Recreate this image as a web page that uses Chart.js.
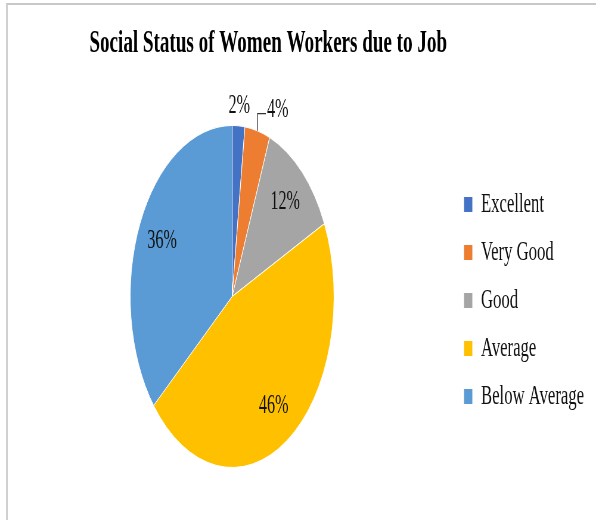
<!DOCTYPE html>
<html>
<head>
<meta charset="utf-8">
<script src="https://cdn.jsdelivr.net/npm/chart.js@4.4.0/dist/chart.umd.min.js"></script>
<style>
  html, body { margin: 0; padding: 0; background: #fff; overflow: hidden; }
  #frame { position: absolute; left: 6px; top: 3px; width: 700px; height: 600px;
           border-top: 2px solid #c8c8c8; border-left: 2px solid #d0d0d0; }
  #wrap { position: absolute; left: 0; top: 0; width: 1000px; height: 520px;
          transform: scaleX(0.596); transform-origin: 0 0; }
</style>
</head>
<body>
<div id="frame"></div>
<div id="wrap"><canvas id="MyChart"></canvas></div>
<script>
var categories = ['Excellent', 'Very Good', 'Good', 'Average', 'Below Average'];
var shares = [2, 4, 12, 46, 36];
var sliceColors = ['#4472C4', '#ED7D31', '#A5A5A5', '#FFC000', '#5B9BD5'];

var FONT = "'Liberation Serif', 'Times New Roman', serif";

// percent labels; the two thin slices sit outside, 4% gets a leader line
var pieLabels = {
  id: 'pieLabels',
  afterDatasetsDraw: function (chart) {
    var ctx = chart.ctx;
    var arcs = chart.getDatasetMeta(0).data;
    ctx.save();
    ctx.fillStyle = '#111';
    ctx.font = '27px ' + FONT;
    ctx.textBaseline = 'middle';
    arcs.forEach(function (arc, i) {
      var p = arc.getProps(['x', 'y', 'startAngle', 'endAngle', 'outerRadius']);
      var mid = (p.startAngle + p.endAngle) / 2;
      var r = p.outerRadius;
      var text = shares[i] + '%';
      if (i === 0) {
        ctx.textAlign = 'center';
        ctx.fillText(text, p.x + Math.cos(mid) * r * 1.116, p.y + Math.sin(mid) * r * 1.116);
      } else if (i === 1) {
        var ex = p.x + Math.cos(mid) * r;
        var ey = p.y + Math.sin(mid) * r;
        var cy = p.y - r * 1.07;
        ctx.strokeStyle = '#333';
        ctx.lineWidth = 1.3;
        ctx.beginPath();
        ctx.moveTo(ex, ey);
        ctx.lineTo(ex, cy);
        ctx.lineTo(ex + 14, cy);
        ctx.stroke();
        ctx.textAlign = 'left';
        ctx.fillText(text, ex + 16, cy - 4);
      } else {
        ctx.textAlign = 'center';
        ctx.fillText(text, p.x + Math.cos(mid) * r * 0.76, p.y + Math.sin(mid) * r * 0.76);
      }
    });
    ctx.restore();
  },
};

// legend is laid out narrow so the title centres like the original,
// then its box is widened so the long labels are not clipped
var legendRoom = {
  id: 'legendRoom',
  afterLayout: function (chart) {
    var lg = chart.legend;
    if (!lg) return;
    lg.right = chart.width;
    lg.width = lg.right - lg.left;
    lg.top += 4;
    lg.bottom += 4;
  },
};

var ctx = document.getElementById('MyChart').getContext('2d');
var chart = new Chart(ctx, {
  type: 'pie',
  data: {
    labels: categories,
    datasets: [
      {
        data: shares,
        backgroundColor: sliceColors,
        borderColor: '#ffffff',
        borderWidth: 1,
      },
    ],
  },
  options: {
    responsive: true,
    maintainAspectRatio: false,
    animation: false,
    layout: {
      padding: { left: 21, right: 121, top: 0, bottom: 52 },
    },
    plugins: {
      tooltip: { enabled: false },
      title: {
        display: true,
        text: 'Social Status of Women Workers due to Job',
        color: '#000',
        font: { family: FONT, size: 32, weight: 'bold' },
        padding: { top: 25, bottom: 61.6 },
      },
      legend: {
        display: true,
        position: 'right',
        fullSize: false,
        maxWidth: 121,
        labels: {
          color: '#111',
          boxWidth: 15,
          boxHeight: 16,
          padding: 20,
          font: { family: FONT, size: 28 },
        },
      },
    },
  },
  plugins: [pieLabels, legendRoom],
});
</script>
</body>
</html>
